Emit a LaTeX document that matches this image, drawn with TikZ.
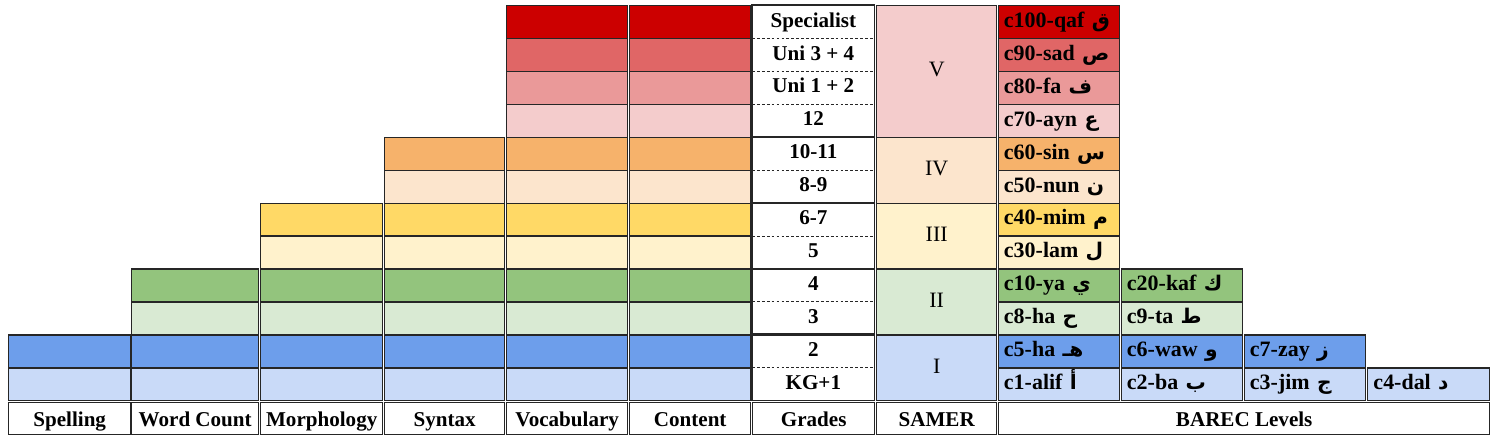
\documentclass[tikz,border=0pt]{standalone}
\usepackage{fontspec}
\setmainfont{Liberation Serif}
\newfontfamily\arabicfont[Script=Arabic]{DejaVu Sans}
\TeXXeTstate=1
\newcommand\arb[1]{{\arabicfont\bfseries\fontsize{11.5}{12}\selectfont\beginR #1\endR}}
\definecolor{row1}{HTML}{CC0000}
\definecolor{row2}{HTML}{E06666}
\definecolor{row3}{HTML}{EA9999}
\definecolor{row4}{HTML}{F4CCCC}
\definecolor{row5}{HTML}{F6B26B}
\definecolor{row6}{HTML}{FCE5CD}
\definecolor{row7}{HTML}{FFD966}
\definecolor{row8}{HTML}{FFF2CC}
\definecolor{row9}{HTML}{93C47D}
\definecolor{row10}{HTML}{D9EAD3}
\definecolor{row11}{HTML}{6D9EEB}
\definecolor{row12}{HTML}{C9DAF8}
\definecolor{bordc}{HTML}{262626}
\tikzset{
  cell/.style={draw=bordc, line width=0.8pt, inner sep=0pt, text height=8.6pt, text depth=2.6pt, font=\fontsize{12}{14}\selectfont\bfseries},
  samer/.style={cell, font=\fontsize{12.5}{14}\selectfont},
  gradecell/.style={draw=none, inner sep=0pt, text height=8.6pt, text depth=2.6pt, font=\fontsize{12}{14}\selectfont\bfseries},
  barec/.style={cell, font=\fontsize{12.5}{14}\selectfont\bfseries, inner xsep=3pt, text width=2.42cm-6pt, align=left},
  headcell/.style={cell, fill=white, text height=10pt, text depth=1.6pt},
  grpbox/.style={draw=bordc, line width=0.8pt},
  sep/.style={draw=bordc, line width=0.6pt, dash pattern=on 1.6pt off 1.2pt},
}
\newcommand\cellat[7]{%
  \pgfmathsetmacro\yt{5+(#4-1)*32.917}%
  \pgfmathsetmacro\yb{5+#5*32.917}%
  \node[#6, anchor=north west, minimum width={(#3-#2)*0.02cm}, minimum height={(\yb-\yt)*0.02cm}] (#1) at (#2,\yt) {#7};%
}
\begin{document}
\begin{tikzpicture}[x=0.02cm,y=-0.02cm]
\useasboundingbox[fill=white] (0,0) rectangle (1495,437);
% feature columns
\foreach \c/\l/\r/\s in {sp/8/130/11, wc/131/258/9, mo/260/382/7, sy/384/504/5, vo/506/627/1, co/629/750/1}{
  \foreach \i in {\s,...,12}{
    \cellat{\c\i}{\l}{\r}{\i}{\i}{cell, fill=row\i}{}
  }
}
% grades
\cellat{g1}{752}{874}{1}{1}{gradecell}{Specialist}
\cellat{g2}{752}{874}{2}{2}{gradecell}{Uni 3 + 4}
\cellat{g3}{752}{874}{3}{3}{gradecell}{Uni 1 + 2}
\cellat{g4}{752}{874}{4}{4}{gradecell}{12}
\cellat{g5}{752}{874}{5}{5}{gradecell}{10-11}
\cellat{g6}{752}{874}{6}{6}{gradecell}{8-9}
\cellat{g7}{752}{874}{7}{7}{gradecell}{6-7}
\cellat{g8}{752}{874}{8}{8}{gradecell}{5}
\cellat{g9}{752}{874}{9}{9}{gradecell}{4}
\cellat{g10}{752}{874}{10}{10}{gradecell}{3}
\cellat{g11}{752}{874}{11}{11}{gradecell}{2}
\cellat{g12}{752}{874}{12}{12}{gradecell}{KG+1}
\draw[grpbox] (g1.north west) rectangle (g4.south east);
\draw[grpbox] (g5.north west) rectangle (g6.south east);
\draw[grpbox] (g7.north west) rectangle (g8.south east);
\draw[grpbox] (g9.north west) rectangle (g10.south east);
\draw[grpbox] (g11.north west) rectangle (g12.south east);
\foreach \a in {1,2,3,5,7,9,11}{
  \draw[sep] (g\a.south west) -- (g\a.south east);
}
% SAMER
\cellat{s5}{876}{996}{1}{4}{samer, fill=row4}{V}
\cellat{s4}{876}{996}{5}{6}{samer, fill=row6}{IV}
\cellat{s3}{876}{996}{7}{8}{samer, fill=row8}{III}
\cellat{s2}{876}{996}{9}{10}{samer, fill=row10}{II}
\cellat{s1}{876}{996}{11}{12}{samer, fill=row12}{I}
% BAREC
\cellat{b100}{998}{1119}{1}{1}{barec, fill=row1}{c100-qaf \arb{ق}}
\cellat{b90}{998}{1119}{2}{2}{barec, fill=row2}{c90-sad \arb{ص}}
\cellat{b80}{998}{1119}{3}{3}{barec, fill=row3}{c80-fa \arb{ف}}
\cellat{b70}{998}{1119}{4}{4}{barec, fill=row4}{c70-ayn \arb{ع}}
\cellat{b60}{998}{1119}{5}{5}{barec, fill=row5}{c60-sin \arb{س}}
\cellat{b50}{998}{1119}{6}{6}{barec, fill=row6}{c50-nun \arb{ن}}
\cellat{b40}{998}{1119}{7}{7}{barec, fill=row7}{c40-mim \arb{م}}
\cellat{b30}{998}{1119}{8}{8}{barec, fill=row8}{c30-lam \arb{ل}}
\cellat{b10}{998}{1119}{9}{9}{barec, fill=row9}{c10-ya \arb{ي}}
\cellat{b8}{998}{1119}{10}{10}{barec, fill=row10}{c8-ha \arb{ح}}
\cellat{b5}{998}{1119}{11}{11}{barec, fill=row11}{c5-ha \arb{هـ}}
\cellat{b1}{998}{1119}{12}{12}{barec, fill=row12}{c1-alif \arb{أ}}
\cellat{b20}{1121}{1242}{9}{9}{barec, fill=row9}{c20-kaf \arb{ك}}
\cellat{b9}{1121}{1242}{10}{10}{barec, fill=row10}{c9-ta \arb{ط}}
\cellat{b6}{1121}{1242}{11}{11}{barec, fill=row11}{c6-waw \arb{و}}
\cellat{b2}{1121}{1242}{12}{12}{barec, fill=row12}{c2-ba \arb{ب}}
\cellat{b7}{1244}{1365}{11}{11}{barec, fill=row11}{c7-zay \arb{ز}}
\cellat{b3}{1244}{1365}{12}{12}{barec, fill=row12}{c3-jim \arb{ج}}
\cellat{b4}{1367}{1489}{12}{12}{barec, fill=row12}{c4-dal \arb{د}}
% header row
\foreach \n/\l/\r/\t in {h1/8/130/Spelling, h2/131/258/Word Count, h3/260/382/Morphology, h4/384/504/Syntax, h5/506/627/Vocabulary, h6/629/750/Content, h7/752/874/Grades, h8/876/996/SAMER, h9/998/1489/BAREC Levels}{
  \node[headcell, anchor=north west, minimum width={(\r-\l)*0.02cm}, minimum height={32*0.02cm}] (\n) at (\l,402) {\t};
}
\end{tikzpicture}
\end{document}
